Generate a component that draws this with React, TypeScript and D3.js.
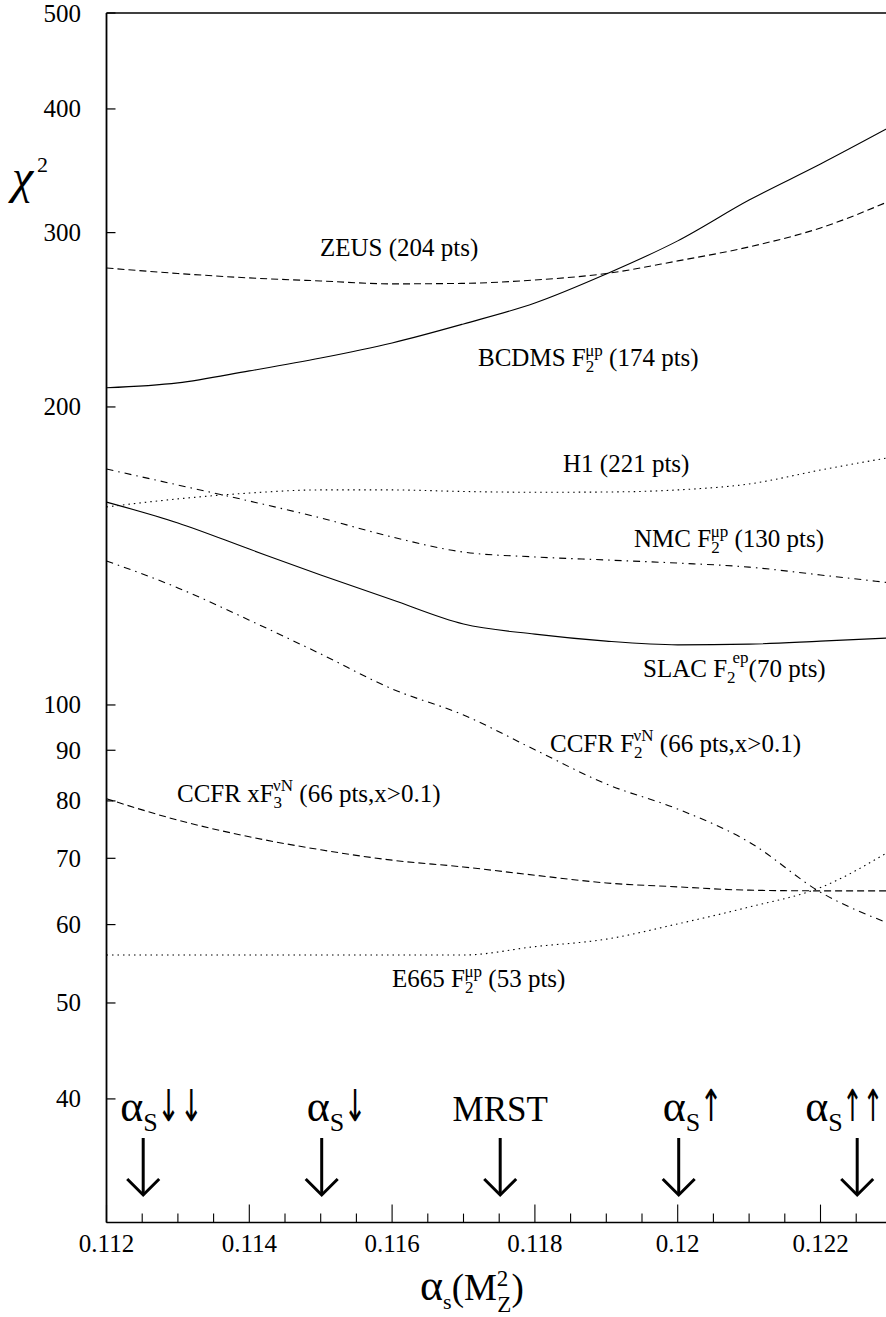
import React from "react";
import * as d3 from "d3";

// ---- data ----
const alphaGrid = [0.112, 0.113, 0.114, 0.115, 0.116, 0.117, 0.118, 0.119, 0.12, 0.121, 0.122, 0.123];
const zeus = [276.3, 272.8, 270.0, 268.1, 266.3, 266.6, 268.7, 272.8, 280.9, 290.2, 303.3, 323.6];
const bcdms = [209.1, 211.5, 217.5, 224.1, 232.1, 242.6, 254.7, 272.5, 294.3, 323.6, 351.9, 384.4];
const h1 = [158.5, 161.5, 163.7, 164.9, 164.9, 164.3, 164.0, 164.1, 164.9, 167.2, 172.7, 178.0];
const nmc = [173.1, 166.8, 160.7, 154.5, 147.8, 142.7, 141.1, 140.1, 139.1, 137.8, 135.3, 132.8];
const slac = [160.3, 152.7, 143.7, 135.3, 127.7, 120.7, 117.9, 116.0, 115.0, 115.2, 116.0, 116.9];
const ccfrF2 = [139.8, 131.3, 121.8, 112.6, 103.8, 97.7, 90.1, 83.2, 78.5, 72.7, 64.7, 60.0];
const ccfrXF3 = [80.4, 76.5, 73.6, 71.4, 69.7, 68.6, 67.3, 66.1, 65.5, 65.0, 64.9, 64.9];
const e665 = [55.9, 55.9, 55.9, 55.9, 55.9, 55.9, 57.0, 58.0, 60.1, 62.5, 65.4, 71.4];

const yTickValues = [40, 50, 60, 70, 80, 90, 100, 200, 300, 400, 500];
const xTickLabels = ["0.112", "0.114", "0.116", "0.118", "0.12", "0.122"];
const xMajorTicks = [0.112, 0.114, 0.116, 0.118, 0.12, 0.122];
const arrowAlphas = [0.1125, 0.115, 0.1175, 0.12, 0.1225];
const arrowNames = ["down2", "down1", "MRST", "up1", "up2"];

// ---- layout ----
const W = 886;
const H = 1317;
const X0 = 106.5;
const X1 = 891.9;
const YT = 13;
const YB = 1222.6;
const FONT = "'Liberation Serif', 'Times New Roman', serif";
const ARROWFONT = "'DejaVu Sans', sans-serif";

const x = d3.scaleLinear().domain([0.112, 0.123]).range([X0, X1]);
const y = d3.scaleLog().domain([30, 500]).range([YB, YT]);

const DASHED = "7,4";
const DASHDOT = "7,5,1.5,5";
const DOTTED = "1.5,4";

const series = [
  { name: "ZEUS", values: zeus, dash: DASHED },
  { name: "BCDMS", values: bcdms, dash: null },
  { name: "H1", values: h1, dash: DOTTED },
  { name: "NMC", values: nmc, dash: DASHDOT },
  { name: "SLAC", values: slac, dash: null },
  { name: "CCFRF2", values: ccfrF2, dash: DASHDOT },
  { name: "CCFRxF3", values: ccfrXF3, dash: DASHED },
  { name: "E665", values: e665, dash: DOTTED },
];

const line = d3
  .line<[number, number]>()
  .x((d) => x(d[0]))
  .y((d) => y(d[1]))
  .curve(d3.curveMonotoneX);

const LS = 25; // label font size
const SS = 17; // small script size

function ArrowLabel({ kind, ax }: { kind: string; ax: number }) {
  const by = 1121;
  if (kind === "MRST") {
    return (
      <text x={ax} y={by} fontSize={35} textAnchor="middle" fontFamily={FONT}>
        MRST
      </text>
    );
  }
  const offs: Record<string, number> = { down2: -23, down1: -15, up1: -16, up2: -52 };
  const arr: Record<string, string> = { down2: "↓↓", down1: "↓", up1: "↑", up2: "↑↑" };
  const sx = ax + offs[kind];
  const sc = kind === "up2" ? 0.56 : 0.62;
  return (
    <g>
      <text x={sx} y={by} fontSize={35} fontFamily={FONT}>
        <tspan fontSize={44}>α</tspan>
        <tspan fontSize={26} dy={10}>S</tspan>
      </text>
      <text
        transform={`translate(${sx + 37},${by}) scale(${sc},1)`}
        x={0}
        y={0}
        fontSize={44}
        fontFamily={ARROWFONT}
        fill="#000"
      >
        {arr[kind]}
      </text>
    </g>
  );
}

export default function App() {
  const minorTicks = d3.range(0, 23).map((i) => 0.112 + i * 0.0005);
  return (
    <svg
      width={W}
      height={H}
      style={{ position: "absolute", left: 0, top: 0, background: "#fff" }}
      fontFamily={FONT}
    >
      <defs>
        <clipPath id="plotclip">
          <rect x={X0} y={YT} width={X1 - X0} height={YB - YT} />
        </clipPath>
      </defs>
      <rect x={0} y={0} width={W} height={H} fill="#fff" />

      {/* curves */}
      <g clipPath="url(#plotclip)">
        {series.map((s) => (
          <path
            key={s.name}
            d={line(alphaGrid.map((a, i) => [a, s.values[i]] as [number, number])) || ""}
            fill="none"
            stroke="#000"
            strokeWidth={1.1}
            strokeDasharray={s.dash || undefined}
          />
        ))}
      </g>

      {/* frame */}
      <line x1={X0} x2={X1} y1={YT} y2={YT} stroke="#000" strokeWidth={1.5} />
      <line x1={X0} x2={X1} y1={YB} y2={YB} stroke="#000" strokeWidth={1.5} />
      <line x1={X0} x2={X0} y1={YT} y2={YB} stroke="#000" strokeWidth={1.8} />

      {/* y ticks */}
      {yTickValues.map((v) => (
        <g key={v}>
          <line x1={X0} x2={X0 + 9} y1={y(v)} y2={y(v)} stroke="#000" strokeWidth={1.2} />
          <text x={81} y={y(v) + 8.5} fontSize={LS} textAnchor="end">
            {v}
          </text>
        </g>
      ))}

      {/* x ticks */}
      {minorTicks.map((t, i) => (
        <line
          key={i}
          x1={x(t)}
          x2={x(t)}
          y1={YB}
          y2={YB - (i % 4 === 0 ? 18 : 9)}
          stroke="#000"
          strokeWidth={1.1}
        />
      ))}
      {xMajorTicks.map((t, i) => (
        <text key={t} x={x(t)} y={1252} fontSize={LS} textAnchor="middle">
          {xTickLabels[i]}
        </text>
      ))}

      {/* axis titles */}
      <text x={12} y={193} fontSize={48} fontStyle="italic">
        χ
      </text>
      <text x={37} y={172} fontSize={22}>
        2
      </text>
      <text x={420} y={1300} fontSize={37}>
        <tspan fontSize={44}>α</tspan>
        <tspan fontSize={22} dy={9}>s</tspan>
        <tspan dy={-9}>(M</tspan>
        <tspan fontSize={23} dy={-14}>2</tspan>
        <tspan fontSize={23} dx={-11} dy={26}>Z</tspan>
        <tspan dy={-12}>)</tspan>
      </text>

      {/* curve labels */}
      <text x={320} y={256} fontSize={LS}>ZEUS (204 pts)</text>
      <text x={478} y={366} fontSize={LS}>
        BCDMS F
        <tspan fontSize={SS} dy={6}>2</tspan>
        <tspan fontSize={SS} dx={-9} dy={-16}>μp</tspan>
        <tspan dy={10}> (174 pts)</tspan>
      </text>
      <text x={563} y={472} fontSize={LS}>H1 (221 pts)</text>
      <text x={634} y={547} fontSize={LS}>
        NMC F
        <tspan fontSize={SS} dy={6}>2</tspan>
        <tspan fontSize={SS} dx={-9} dy={-16}>μp</tspan>
        <tspan dy={10}> (130 pts)</tspan>
      </text>
      <text x={643} y={677} fontSize={LS}>
        SLAC F
        <tspan fontSize={SS} dy={6}>2</tspan>
        <tspan fontSize={SS} dx={-3} dy={-20}>ep</tspan>
        <tspan dy={14}>(70 pts)</tspan>
      </text>
      <text x={550} y={752} fontSize={LS}>
        CCFR F
        <tspan fontSize={SS} dy={6}>2</tspan>
        <tspan fontSize={SS} dx={-9} dy={-17}>νN</tspan>
        <tspan dy={11}> (66 pts,x&gt;0.1)</tspan>
      </text>
      <text x={177} y={802} fontSize={LS}>
        CCFR xF
        <tspan fontSize={SS} dy={6}>3</tspan>
        <tspan fontSize={SS} dx={-9} dy={-17}>νN</tspan>
        <tspan dy={11}> (66 pts,x&gt;0.1)</tspan>
      </text>
      <text x={392} y={987} fontSize={LS}>
        E665 F
        <tspan fontSize={SS} dy={6}>2</tspan>
        <tspan fontSize={SS} dx={-9} dy={-16}>μp</tspan>
        <tspan dy={10}> (53 pts)</tspan>
      </text>

      {/* arrows */}
      {arrowAlphas.map((a, i) => {
        const ax = x(a) + 1;
        return (
          <g key={a}>
            <ArrowLabel kind={arrowNames[i]} ax={ax} />
            <line x1={ax} x2={ax} y1={1138} y2={1195} stroke="#000" strokeWidth={3} />
            <path
              d={`M${ax - 16},${1179} L${ax},${1195} L${ax + 16},${1179}`}
              fill="none"
              stroke="#000"
              strokeWidth={3}
            />
          </g>
        );
      })}
    </svg>
  );
}
